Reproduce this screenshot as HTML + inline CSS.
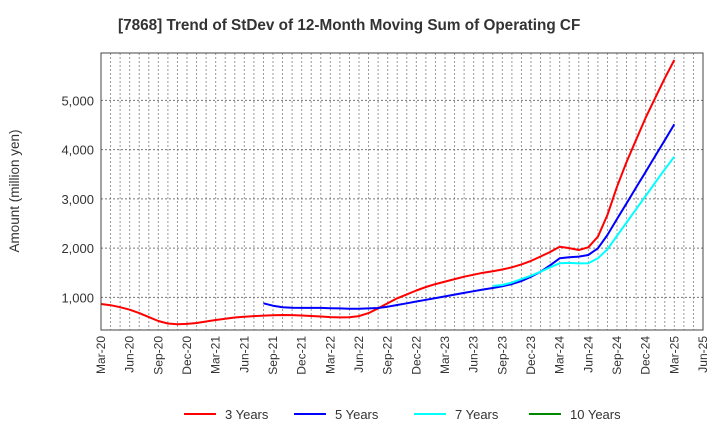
<!DOCTYPE html>
<html><head><meta charset="utf-8"><style>
body{margin:0;background:#fff;font-family:"Liberation Sans",sans-serif}
svg text{font-family:"Liberation Sans",sans-serif}
</style></head><body>
<svg width="720" height="440" xmlns="http://www.w3.org/2000/svg" id="chart">
<text x="118" y="30" font-size="15.3" font-weight="bold" fill="#333">[7868]  Trend of StDev of 12-Month Moving Sum of Operating CF</text>
<text transform="translate(19,191) rotate(-90)" text-anchor="middle" font-size="13.5" fill="#333">Amount (million yen)</text>
<g id="grid"></g>
<g id="ylabels"></g>
<g id="xlabels"></g>
<g id="series"></g>
<rect x="101" y="53" width="602" height="277" fill="none" stroke="#444" stroke-width="1"/>
<g>
<g><line x1="184" y1="414" x2="216" y2="414" stroke="#f00" stroke-width="2"/><text x="225" y="419" font-size="13" fill="#333">3 Years</text></g>
<g><line x1="294" y1="414" x2="326" y2="414" stroke="#00f" stroke-width="2"/><text x="335" y="419" font-size="13" fill="#333">5 Years</text></g>
<g><line x1="414" y1="414" x2="446" y2="414" stroke="#0ff" stroke-width="2"/><text x="455" y="419" font-size="13" fill="#333">7 Years</text></g>
<g><line x1="529" y1="414" x2="561" y2="414" stroke="#080" stroke-width="2"/><text x="570" y="419" font-size="13" fill="#333">10 Years</text></g>
</g>
</svg>
<script>
const xTickLabels=["Mar-20","Jun-20","Sep-20","Dec-20","Mar-21","Jun-21","Sep-21","Dec-21","Mar-22","Jun-22","Sep-22","Dec-22","Mar-23","Jun-23","Sep-23","Dec-23","Mar-24","Jun-24","Sep-24","Dec-24","Mar-25","Jun-25"];
const yTicks=[1000,2000,3000,4000,5000];
const yTickLabels=["1,000","2,000","3,000","4,000","5,000"];
const red=[865,840,800,750,680,600,520,470,455,460,480,510,540,565,590,605,620,630,638,642,640,632,622,612,600,592,595,620,680,778,880,980,1060,1140,1210,1270,1320,1370,1420,1460,1500,1530,1565,1610,1670,1740,1830,1920,2029,2000,1961,2016,2232,2672,3247,3750,4200,4650,5050,5450,5820];
const blueStart=17;
const blue=[879,830,800,790,785,785,785,780,775,770,770,775,783,810,845,880,915,950,985,1020,1055,1090,1125,1160,1190,1225,1270,1330,1420,1520,1650,1793,1815,1827,1860,1996,2266,2590,2910,3230,3550,3870,4190,4513];
const cyanStart=41;
const cyan=[1230,1250,1300,1370,1440,1520,1610,1691,1700,1690,1691,1793,1976,2250,2520,2790,3060,3330,3600,3856];
const green=[];
const X0=101,X1=703,Y0=53,Y1=330,NM=63;
const xS=m=>X0+(X1-X0)*m/NM;
const yS=v=>346.6-v*0.04925;
const ns="http://www.w3.org/2000/svg";
const mk=(t,a,p)=>{const e=document.createElementNS(ns,t);for(const k in a)e.setAttribute(k,a[k]);p.appendChild(e);return e;};
const grid=document.getElementById('grid');
for(let m=1;m<NM;m++){const l=mk('line',{x1:xS(m),x2:xS(m),y1:Y0,y2:Y1,stroke:'#999','stroke-dasharray':'2,2','stroke-width':1},grid);

}
yTicks.forEach((v,i)=>{const l=mk('line',{x1:X0,x2:X1,y1:yS(v),y2:yS(v),stroke:'#777','stroke-dasharray':'2,2','stroke-width':1},grid);


const t=mk('text',{x:94,y:yS(v)+5,'text-anchor':'end','font-size':13,fill:'#333'},document.getElementById('ylabels'));t.textContent=yTickLabels[i];

});
xTickLabels.forEach((s,i)=>{const x=xS(i*3);const t=mk('text',{transform:`translate(${x+4},336) rotate(-90)`,'text-anchor':'end','font-size':12,fill:'#333'},document.getElementById('xlabels'));t.textContent=s;

});
function line(arr,start,color,name){if(!arr.length)return;const d=arr.map((v,i)=>(i?'L':'M')+xS(start+i).toFixed(1)+','+yS(v).toFixed(1)).join(' ');
const p=mk('path',{d:d,fill:'none',stroke:color,'stroke-width':2,'stroke-linejoin':'round'},document.getElementById('series'));

}
line(red,0,'#f00','line-3-years');
line(blue,blueStart,'#00f','line-5-years');
line(cyan,cyanStart,'#0ff','line-7-years');
line(green,0,'#080','line-10-years');
</script>
</body></html>
